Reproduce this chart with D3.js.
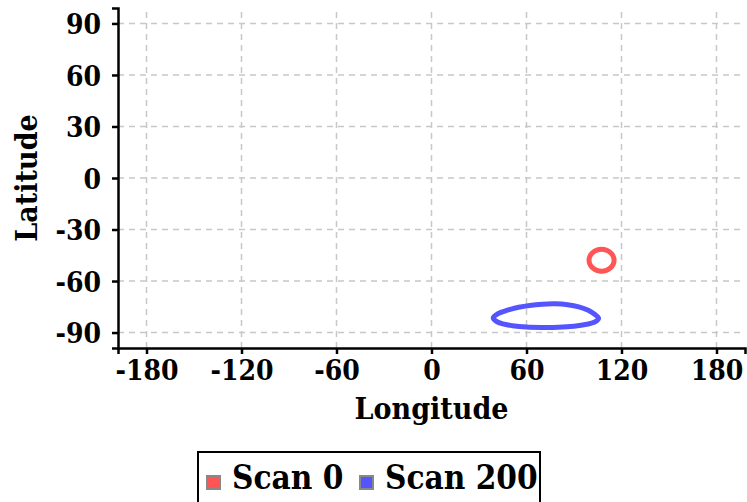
<!DOCTYPE html>
<html>
<head>
<meta charset="utf-8">
<script src="https://cdn.jsdelivr.net/npm/d3@7"></script>
<style>
  body { margin: 0; background: #fff; }
  svg { display: block; font-family: "DejaVu Serif Condensed", "DejaVu Serif", serif; font-weight: bold; font-stretch: condensed; }
  .grid line { stroke: #c8c8c8; stroke-width: 1.5; stroke-dasharray: 6,5; }
</style>
</head>
<body>
<div id="chart"></div>
<script>
var xTicks = [-180, -120, -60, 0, 60, 120, 180];
var yTicks = [-90, -60, -30, 0, 30, 60, 90];
var seriesNames = ["Scan 0", "Scan 200"];
var seriesColors = ["#ff5555", "#5555ff"];

// scan 0 footprint (lon, lat)
var scan0Lon = [115.3, 114.7, 113.0, 110.4, 107.4, 104.4, 101.8, 100.1, 99.5, 100.1, 101.8, 104.4, 107.4, 110.4, 113.0, 114.7];
var scan0Lat = [-47.9, -45.4, -43.4, -42.0, -41.5, -42.0, -43.4, -45.4, -47.9, -50.4, -52.4, -53.8, -54.3, -53.8, -52.4, -50.4];

// scan 200 footprint (lon, lat)
var scan200Lon = [39, 42, 48, 55, 62, 70, 78, 86, 93, 99, 103, 105.5, 103.5, 98, 90, 80, 70, 60, 51, 45, 41];
var scan200Lat = [-81.5, -79, -77, -75.3, -74.2, -73.5, -73.3, -73.8, -75, -77, -79.3, -81.6, -83.7, -85.2, -86.3, -86.9, -87, -86.8, -86, -85, -83.5];

var width = 747, height = 502;
var margin = {top: 8, right: 2, bottom: 154, left: 118};

var svg = d3.select("#chart").append("svg")
  .attr("width", width)
  .attr("height", height);

var x = d3.scaleLinear().domain([-198, 198]).range([margin.left, width - margin.right]);
var y = d3.scaleLinear().domain([-99, 99]).range([height - margin.bottom, margin.top]);

// grid
var grid = svg.append("g").attr("class", "grid");
grid.selectAll("line.v").data(xTicks).enter().append("line")
  .attr("x1", function(d) { return x(d); })
  .attr("x2", function(d) { return x(d); })
  .attr("y1", y.range()[0])
  .attr("y2", y.range()[1]);
grid.selectAll("line.h").data(yTicks).enter().append("line")
  .attr("y1", function(d) { return y(d); })
  .attr("y2", function(d) { return y(d); })
  .attr("x1", x.range()[0])
  .attr("x2", x.range()[1]);

// footprints
var series = [
  {name: seriesNames[0], color: seriesColors[0], pts: d3.zip(scan0Lon, scan0Lat)},
  {name: seriesNames[1], color: seriesColors[1], pts: d3.zip(scan200Lon, scan200Lat)}
];

var line = d3.line()
  .curve(d3.curveCatmullRomClosed)
  .x(function(d) { return x(d[0]); })
  .y(function(d) { return y(d[1]); });

svg.append("g").selectAll("path").data(series).enter().append("path")
  .attr("d", function(d) { return line(d.pts); })
  .attr("fill", "none")
  .attr("stroke", function(d) { return d.color; })
  .attr("stroke-width", 5);

// axes
var fmt = function(d) { return String(d); };
var xAxis = svg.append("g")
  .attr("transform", "translate(0," + y.range()[0] + ")")
  .call(d3.axisBottom(x).tickValues(xTicks).tickFormat(fmt).tickSize(6).tickPadding(6));
var yAxis = svg.append("g")
  .attr("transform", "translate(" + x.range()[0] + ",0)")
  .call(d3.axisLeft(y).tickValues(yTicks).tickFormat(fmt).tickSize(6).tickPadding(11));

[xAxis, yAxis].forEach(function(a) {
  a.select(".domain").attr("stroke", "#000").attr("stroke-width", 2.5);
  a.selectAll(".tick line").attr("stroke", "#000").attr("stroke-width", 2.5);
  a.selectAll(".tick text")
    .attr("fill", "#000")
    .style("font-family", "DejaVu Serif Condensed, DejaVu Serif, serif")
    .style("font-weight", "bold")
    .style("font-size", "28px");
});
xAxis.selectAll(".tick text").attr("dy", "0.72em");
yAxis.selectAll(".tick text").attr("dy", "0.36em");

svg.append("text")
  .attr("x", (x.range()[0] + x.range()[1]) / 2)
  .attr("y", 419)
  .attr("text-anchor", "middle")
  .style("font-size", "30px")
  .text("Longitude");

svg.append("text")
  .attr("transform", "translate(37," + ((y.range()[0] + y.range()[1]) / 2) + ") rotate(-90)")
  .attr("text-anchor", "middle")
  .style("font-size", "30px")
  .text("Latitude");

// legend
var legend = svg.append("g");
legend.append("rect")
  .attr("x", 198).attr("y", 452)
  .attr("width", 342).attr("height", 70)
  .attr("fill", "#fff")
  .attr("stroke", "#000")
  .attr("stroke-width", 2);

var items = legend.selectAll("g.item").data(series).enter().append("g")
  .attr("transform", function(d, i) { return "translate(" + (i === 0 ? 206 : 359) + ",0)"; });
items.append("rect")
  .attr("x", 1).attr("y", 476)
  .attr("width", 13).attr("height", 13)
  .attr("fill", function(d) { return d.color; })
  .attr("stroke", "#888")
  .attr("stroke-width", 2);
items.append("text")
  .attr("x", 26).attr("y", 489)
  .style("font-size", "33px")
  .text(function(d) { return d.name; });
</script>
</body>
</html>
